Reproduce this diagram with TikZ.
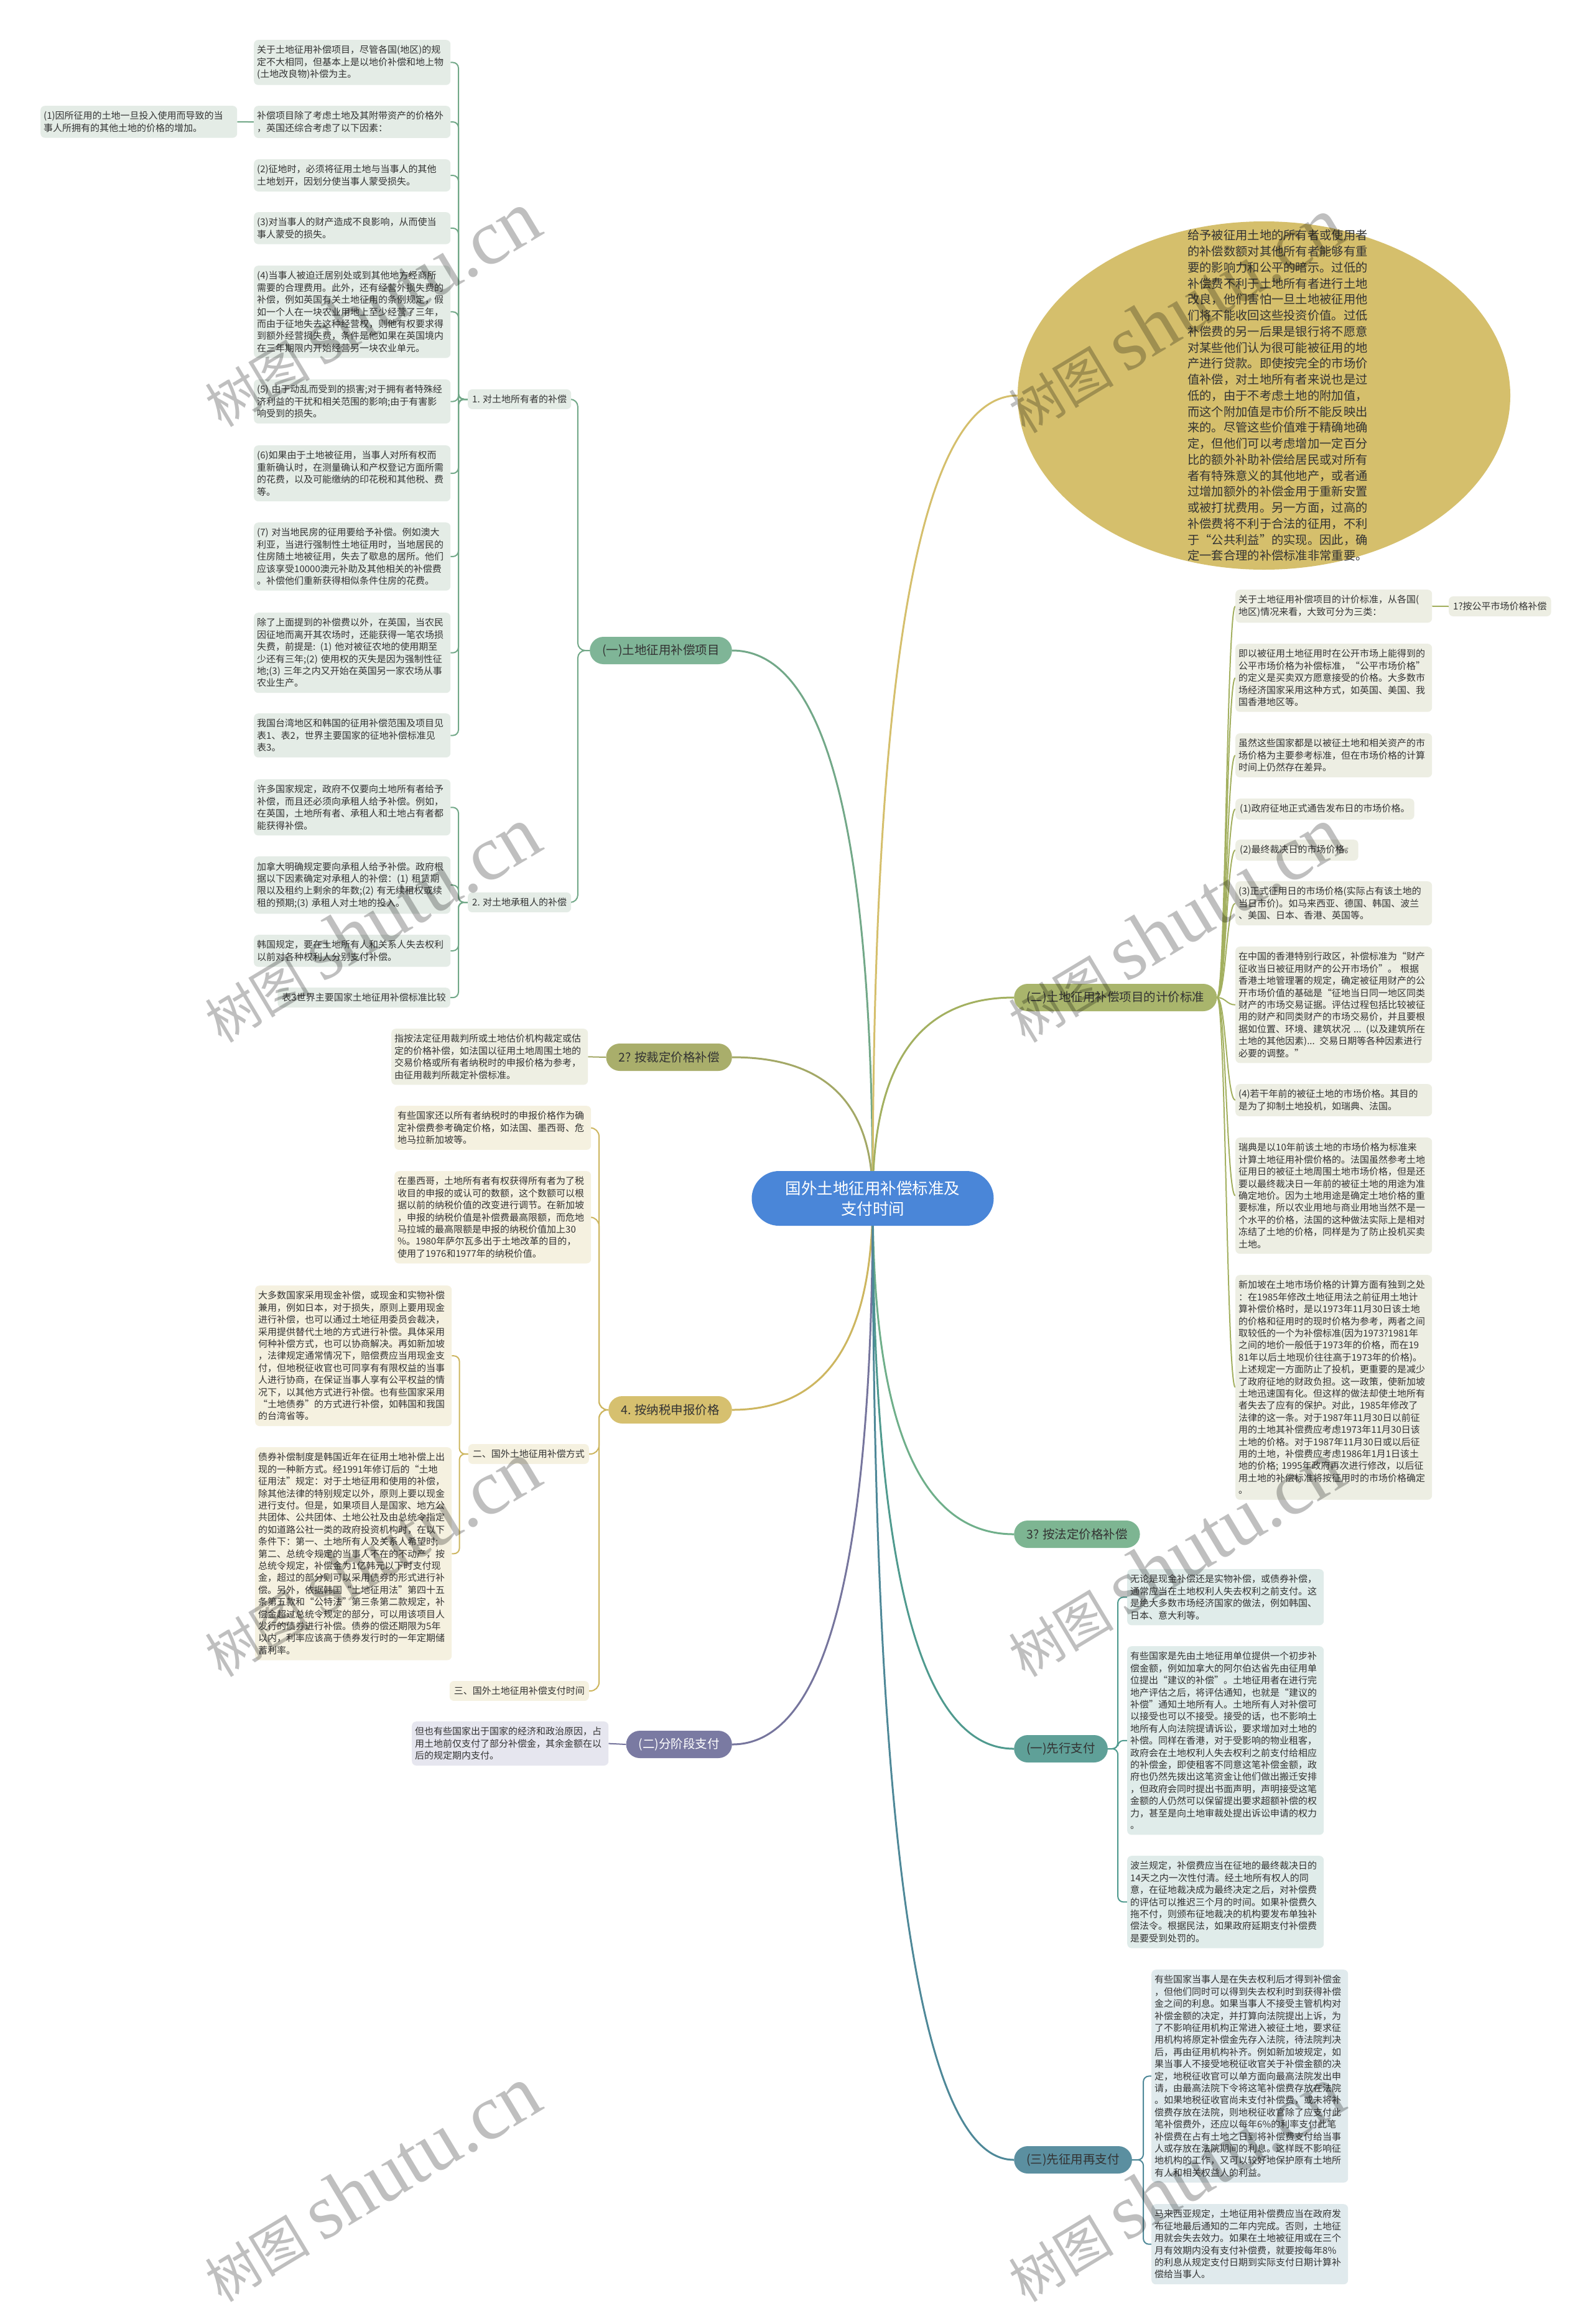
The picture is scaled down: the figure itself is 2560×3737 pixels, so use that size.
\documentclass[tikz,border=0pt]{standalone}
\usepackage{fontspec}
\setmainfont{Noto Sans CJK SC}
\newfontfamily\wmlatin{Liberation Serif}
\usetikzlibrary{calc,shapes.geometric}

\definecolor{txt}{HTML}{333333}
\definecolor{rootblue}{HTML}{4A86D8}
\definecolor{grnline}{HTML}{72A888}
\definecolor{grnnode}{HTML}{7FB597}
\definecolor{grnleaf}{HTML}{E4ECE6}
\definecolor{olvline}{HTML}{A3A866}
\definecolor{olvnode}{HTML}{A9AE6B}
\definecolor{olvleaf}{HTML}{EEEFE3}
\definecolor{gldline}{HTML}{CDB660}
\definecolor{gldnode}{HTML}{D6C06F}
\definecolor{gldleaf}{HTML}{F5F1E0}
\definecolor{prpline}{HTML}{76759D}
\definecolor{prpnode}{HTML}{7A7AA2}
\definecolor{prpleaf}{HTML}{E6E6EF}
\definecolor{ellfill}{HTML}{D5BF6C}
\definecolor{pcline}{HTML}{A3B060}
\definecolor{pcnode}{HTML}{A9B56C}
\definecolor{pcleaf}{HTML}{EDEEE3}
\definecolor{lgline}{HTML}{6FAF8A}
\definecolor{lgnode}{HTML}{7DB592}
\definecolor{advline}{HTML}{4F9A8E}
\definecolor{advnode}{HTML}{5FA098}
\definecolor{advleaf}{HTML}{E0ECEA}
\definecolor{latline}{HTML}{4E8898}
\definecolor{latnode}{HTML}{5B8FA0}
\definecolor{latleaf}{HTML}{E0EAED}

\newcommand\leaffont{\fontsize{15}{19.4}\selectfont}
\newcommand\topicfont{\fontsize{19.5}{24}\selectfont}
\newcommand\rootfont{\fontsize{25.5}{33}\selectfont}
\newcommand\ellfont{\fontsize{19.3}{25.75}\selectfont}
\newcommand\wmfont{\fontsize{85}{90}\selectfont}

\newcommand\branch[2]{\draw[link=#1] (root.center) .. controls ($(root.center)!.67!(root.center |- #2)$) and ($(#2)!.67!(root.center |- #2)$) .. (#2);}

\pgfdeclarelayer{back}
\pgfdeclarelayer{lines}
\pgfsetlayers{back,lines,main}

\begin{document}
\begin{tikzpicture}[x=1pt,y=-1pt,
    leaf/.style={fill=#1,rounded corners=7pt,inner xsep=5pt,inner ysep=9pt,text width=306pt,align=left,font=\leaffont,text=txt,anchor=north west},
    tag/.style={fill=#1,rounded corners=7pt,inner xsep=7pt,inner ysep=9pt,font=\leaffont,text=txt},
    topic/.style={fill=#1,rounded corners=22pt,minimum height=44pt,inner xsep=20pt,font=\topicfont,text=txt},
    link/.style={draw=#1,line width=3pt},
    sub/.style={draw=#1,line width=2pt,rounded corners=9pt},
    wmark/.style={rotate=31,opacity=.25,font=\wmfont,anchor=base west}]
  \useasboundingbox (0,0) rectangle (2560,3737);
  \begin{pgfonlayer}{back}
    \fill[white] (0,0) rectangle (2560,3737);
  \end{pgfonlayer}

  \node[fill=rootblue,text=white,font=\rootfont,align=center,rounded corners=44pt,minimum width=389pt,minimum height=88pt] (root) at (1403,1927) {国外土地征用补偿标准及\\支付时间};

  \node[topic=grnnode,anchor=east] (items) at (1177,1046) {(一)土地征用补偿项目};
  \node[topic=olvnode,anchor=east] (judged) at (1177,1700) {2? 按裁定价格补偿};
  \node[topic=gldnode,anchor=east] (tax) at (1177,2267) {4. 按纳税申报价格};
  \node[topic=prpnode,anchor=east,text=white] (stage) at (1177,2805) {(二)分阶段支付};
  \node[ellipse,fill=ellfill,minimum width=792pt,minimum height=560pt,inner sep=0pt] (ell) at (2032,636) {};
  \node[font=\ellfont,align=left,text=txt] (elltxt) at (2054,636) {给予被征用土地的所有者或使用者\\的补偿数额对其他所有者能够有重\\要的影响力和公平的暗示。过低的\\补偿费不利于土地所有者进行土地\\改良，他们害怕一旦土地被征用他\\们将不能收回这些投资价值。过低\\补偿费的另一后果是银行将不愿意\\对某些他们认为很可能被征用的地\\产进行贷款。即使按完全的市场价\\值补偿，对土地所有者来说也是过\\低的，由于不考虑土地的附加值，\\而这个附加值是市价所不能反映出\\来的。尽管这些价值难于精确地确\\定，但他们可以考虑增加一定百分\\比的额外补助补偿给居民或对所有\\者有特殊意义的其他地产，或者通\\过增加额外的补偿金用于重新安置\\或被打扰费用。另一方面，过高的\\补偿费将不利于合法的征用，不利\\于“公共利益”的实现。因此，确\\定一套合理的补偿标准非常重要。};
  \node[topic=pcnode,anchor=west] (price) at (1630,1604) {(二)土地征用补偿项目的计价标准};
  \node[topic=lgnode,anchor=west] (legal) at (1630,2467) {3? 按法定价格补偿};
  \node[topic=advnode,anchor=west] (adv) at (1630,2812) {(一)先行支付};
  \node[topic=latnode,anchor=west] (later) at (1630,3473) {(三)先征用再支付};

  \node[tag=grnleaf,anchor=west] (owner) at (752,642) {1. 对土地所有者的补偿};
  \node[tag=grnleaf,anchor=west] (tenant) at (752,1451) {2. 对土地承租人的补偿};
  \node[leaf=grnleaf] (a) at (408,64) {关于土地征用补偿项目，尽管各国(地区)的规\\定不大相同，但基本上是以地价补偿和地上物\\(土地改良物)补偿为主。};
  \node[leaf=grnleaf] (x1) at (65,170) {(1)因所征用的土地一旦投入使用而导致的当\\事人所拥有的其他土地的价格的增加。};
  \node[leaf=grnleaf] (b) at (408,170) {补偿项目除了考虑土地及其附带资产的价格外\\，英国还综合考虑了以下因素：};
  \node[leaf=grnleaf] (c) at (408,256) {(2)征地时，必须将征用土地与当事人的其他\\土地划开，因划分使当事人蒙受损失。};
  \node[leaf=grnleaf] (d) at (408,341) {(3)对当事人的财产造成不良影响，从而使当\\事人蒙受的损失。};
  \node[leaf=grnleaf] (e) at (408,427) {(4)当事人被迫迁居别处或到其他地方经商所\\需要的合理费用。此外，还有经营外损失费的\\补偿，例如英国有关土地征用的条例规定，假\\如一个人在一块农业用地上至少经营了三年，\\而由于征地失去这种经营权，则他有权要求得\\到额外经营损失费，条件是他如果在英国境内\\在三年期限内开始经营另一块农业单元。};
  \node[leaf=grnleaf] (f) at (408,610) {(5) 由于动乱而受到的损害;对于拥有者特殊经\\济利益的干扰和相关范围的影响;由于有害影\\响受到的损失。};
  \node[leaf=grnleaf] (g) at (408,716) {(6)如果由于土地被征用，当事人对所有权而\\重新确认时，在测量确认和产权登记方面所需\\的花费，以及可能缴纳的印花税和其他税、费\\等。};
  \node[leaf=grnleaf] (h) at (408,840) {(7) 对当地民房的征用要给予补偿。例如澳大\\利亚，当进行强制性土地征用时，当地居民的\\住房随土地被征用，失去了歇息的居所。他们\\应该享受10000澳元补助及其他相关的补偿费\\。补偿他们重新获得相似条件住房的花费。};
  \node[leaf=grnleaf] (i) at (408,985) {除了上面提到的补偿费以外，在英国，当农民\\因征地而离开其农场时，还能获得一笔农场损\\失费，前提是: (1) 他对被征农地的使用期至\\少还有三年;(2) 使用权的灭失是因为强制性征\\地;(3) 三年之内又开始在英国另一家农场从事\\农业生产。};
  \node[leaf=grnleaf] (j) at (408,1147) {我国台湾地区和韩国的征用补偿范围及项目见\\表1、表2，世界主要国家的征地补偿标准见\\表3。};
  \node[leaf=grnleaf] (k) at (408,1253) {许多国家规定，政府不仅要向土地所有者给予\\补偿，而且还必须向承租人给予补偿。例如，\\在英国，土地所有者、承租人和土地占有者都\\能获得补偿。};
  \node[leaf=grnleaf] (l) at (408,1377) {加拿大明确规定要向承租人给予补偿。政府根\\据以下因素确定对承租人的补偿：(1) 租赁期\\限以及租约上剩余的年数;(2) 有无续租权或续\\租的预期;(3) 承租人对土地的投入。};
  \node[leaf=grnleaf] (m) at (408,1503) {韩国规定，要在土地所有人和关系人失去权利\\以前对各种权利人分别支付补偿。};
  \node[tag=grnleaf,anchor=north east] (n) at (724,1588) {表3世界主要国家土地征用补偿标准比较};

  \node[leaf=olvleaf] (o1) at (629,1654) {指按法定征用裁判所或土地估价机构裁定或估\\定的价格补偿，如法国以征用土地周围土地的\\交易价格或所有者纳税时的申报价格为参考，\\由征用裁判所裁定补偿标准。};

  \node[leaf=gldleaf] (q1) at (634,1778) {有些国家还以所有者纳税时的申报价格作为确\\定补偿费参考确定价格，如法国、墨西哥、危\\地马拉新加坡等。};
  \node[leaf=gldleaf] (q2) at (634,1883) {在墨西哥，土地所有者有权获得所有者为了税\\收目的申报的或认可的数额，这个数额可以根\\据以前的纳税价值的改变进行调节。在新加坡\\，申报的纳税价值是补偿费最高限额，而危地\\马拉城的最高限额是申报的纳税价值加上30\\\%。1980年萨尔瓦多出于土地改革的目的，\\使用了1976和1977年的纳税价值。};
  \node[tag=gldleaf,anchor=east] (v1) at (947,2338) {二、国外土地征用补偿方式};
  \node[tag=gldleaf,anchor=east] (v2) at (947,2719) {三、国外土地征用补偿支付时间};
  \node[leaf=gldleaf] (u1) at (410,2067) {大多数国家采用现金补偿，或现金和实物补偿\\兼用，例如日本，对于损失，原则上要用现金\\进行补偿，也可以通过土地征用委员会裁决，\\采用提供替代土地的方式进行补偿。具体采用\\何种补偿方式，也可以协商解决。再如新加坡\\，法律规定通常情况下，赔偿费应当用现金支\\付，但地税征收官也可同享有有限权益的当事\\人进行协商，在保证当事人享有公平权益的情\\况下，以其他方式进行补偿。也有些国家采用\\“土地债券”的方式进行补偿，如韩国和我国\\的台湾省等。};
  \node[leaf=gldleaf] (u2) at (410,2327) {债券补偿制度是韩国近年在征用土地补偿上出\\现的一种新方式。经1991年修订后的“土地\\征用法”规定：对于土地征用和使用的补偿，\\除其他法律的特别规定以外，原则上要以现金\\进行支付。但是，如果项目人是国家、地方公\\共团体、公共团体、土地公社及由总统令指定\\的如道路公社一类的政府投资机构时，在以下\\条件下：第一、土地所有人及关系人希望时;\\第二、总统令规定的当事人不在的不动产，按\\总统令规定，补偿金为1亿韩元以下时支付现\\金，超过的部分则可以采用债券的形式进行补\\偿。另外，依据韩国“土地征用法”第四十五\\条第五款和“公特法”第三条第二款规定，补\\偿金超过总统令规定的部分，可以用该项目人\\发行的债券进行补偿。债券的偿还期限为5年\\以内，利率应该高于债券发行时的一年定期储\\蓄利率。};

  \node[leaf=prpleaf] (w) at (662,2768) {但也有些国家出于国家的经济和政治原因，占\\用土地前仅支付了部分补偿金，其余金额在以\\后的规定期内支付。};

  \node[leaf=pcleaf] (p1) at (1986,948) {关于土地征用补偿项目的计价标准，从各国(\\地区)情况来看，大致可分为三类：};
  \node[tag=pcleaf,anchor=west] (fair) at (2329,975) {1?按公平市场价格补偿};
  \node[leaf=pcleaf] (p2) at (1986,1035) {即以被征用土地征用时在公开市场上能得到的\\公平市场价格为补偿标准，“公平市场价格”\\的定义是买卖双方愿意接受的价格。大多数市\\场经济国家采用这种方式，如英国、美国、我\\国香港地区等。};
  \node[leaf=pcleaf] (p3) at (1986,1179) {虽然这些国家都是以被征土地和相关资产的市\\场价格为主要参考标准，但在市场价格的计算\\时间上仍然存在差异。};
  \node[tag=pcleaf,anchor=north west] (p4) at (1986,1284) {(1)政府征地正式通告发布日的市场价格。};
  \node[tag=pcleaf,anchor=north west] (p5) at (1986,1350) {(2)最终裁决日的市场价格。};
  \node[leaf=pcleaf] (p6) at (1986,1417) {(3)正式征用日的市场价格(实际占有该土地的\\当日市价)。如马来西亚、德国、韩国、波兰\\、美国、日本、香港、英国等。};
  \node[leaf=pcleaf] (p7) at (1986,1522) {在中国的香港特别行政区，补偿标准为“财产\\征收当日被征用财产的公开市场价”。 根据\\香港土地管理署的规定，确定被征用财产的公\\开市场价值的基础是“征地当日同一地区同类\\财产的市场交易证据。评估过程包括比较被征\\用的财产和同类财产的市场交易价，并且要根\\据如位置、环境、建筑状况 ... (以及建筑所在\\土地的其他因素)... 交易日期等各种因素进行\\必要的调整。”};
  \node[leaf=pcleaf] (p8) at (1986,1743) {(4)若干年前的被征土地的市场价格。其目的\\是为了抑制土地投机，如瑞典、法国。};
  \node[leaf=pcleaf] (p9) at (1986,1829) {瑞典是以10年前该土地的市场价格为标准来\\计算土地征用补偿价格的。法国虽然参考土地\\征用日的被征土地周围土地市场价格，但是还\\要以最终裁决日一年前的被征土地的用途为准\\确定地价。因为土地用途是确定土地价格的重\\要标准，所以农业用地与商业用地当然不是一\\个水平的价格，法国的这种做法实际上是相对\\冻结了土地的价格，同样是为了防止投机买卖\\土地。};
  \node[leaf=pcleaf] (r) at (1986,2050) {新加坡在土地市场价格的计算方面有独到之处\\：在1985年修改土地征用法之前征用土地计\\算补偿价格时，是以1973年11月30日该土地\\的价格和征用时的现时价格为参考，两者之间\\取较低的一个为补偿标准(因为1973?1981年\\之间的地价一般低于1973年的价格，而在19\\81年以后土地现价往往高于1973年的价格)。\\上述规定一方面防止了投机，更重要的是减少\\了政府征地的财政负担。这一政策，使新加坡\\土地迅速国有化。但这样的做法却使土地所有\\者失去了应有的保护。对此，1985年修改了\\法律的这一条。对于1987年11月30日以前征\\用的土地其补偿费应考虑1973年11月30日该\\土地的价格。对于1987年11月30日或以后征\\用的土地，补偿费应考虑1986年1月1日该土\\地的价格; 1995年政府再次进行修改，以后征\\用土地的补偿标准将按征用时的市场价格确定\\。};

  \node[leaf=advleaf] (s1) at (1812,2523) {无论是现金补偿还是实物补偿，或债券补偿，\\通常应当在土地权利人失去权利之前支付。这\\是绝大多数市场经济国家的做法，例如韩国、\\日本、意大利等。};
  \node[leaf=advleaf] (s2) at (1812,2647) {有些国家是先由土地征用单位提供一个初步补\\偿金额，例如加拿大的阿尔伯达省先由征用单\\位提出“建议的补偿”。土地征用者在进行完\\地产评估之后，将评估通知，也就是“建议的\\补偿”通知土地所有人。土地所有人对补偿可\\以接受也可以不接受。接受的话，也不影响土\\地所有人向法院提请诉讼，要求增加对土地的\\补偿。同样在香港，对于受影响的物业租客，\\政府会在土地权利人失去权利之前支付给相应\\的补偿金，即使租客不同意这笔补偿金额，政\\府也仍然先拨出这笔资金让他们做出搬迁安排\\，但政府会同时提出书面声明，声明接受这笔\\金额的人仍然可以保留提出要求超额补偿的权\\力，甚至是向土地审裁处提出诉讼申请的权力\\。};
  \node[leaf=advleaf] (s3) at (1812,2984) {波兰规定，补偿费应当在征地的最终裁决日的\\14天之内一次性付清。经土地所有权人的同\\意，在征地裁决成为最终决定之后，对补偿费\\的评估可以推迟三个月的时间。如果补偿费久\\拖不付，则颁布征地裁决的机构要发布单独补\\偿法令。根据民法，如果政府延期支付补偿费\\是要受到处罚的。};

  \node[leaf=latleaf] (t1) at (1851,3167) {有些国家当事人是在失去权利后才得到补偿金\\，但他们同时可以得到失去权利时到获得补偿\\金之间的利息。如果当事人不接受主管机构对\\补偿金额的决定，并打算向法院提出上诉，为\\了不影响征用机构正常进入被征土地，要求征\\用机构将原定补偿金先存入法院，待法院判决\\后，再由征用机构补齐。例如新加坡规定，如\\果当事人不接受地税征收官关于补偿金额的决\\定，地税征收官可以单方面向最高法院发出申\\请，由最高法院下令将这笔补偿费存放在法院\\。如果地税征收官尚未支付补偿费，或未将补\\偿费存放在法院，则地税征收官除了应支付此\\笔补偿费外，还应以每年6\%的利率支付此笔\\补偿费在占有土地之日到将补偿费支付给当事\\人或存放在法院期间的利息。这样既不影响征\\地机构的工作，又可以较好地保护原有土地所\\有人和相关权益人的利益。};
  \node[leaf=latleaf] (t2) at (1851,3544) {马来西亚规定，土地征用补偿费应当在政府发\\布征地最后通知的二年内完成。否则，土地征\\用就会失去效力。如果在土地被征用或在三个\\月有效期内没有支付补偿费，就要按每年8\%\\的利息从规定支付日期到实际支付日期计算补\\偿给当事人。};

  \begin{pgfonlayer}{lines}
    \branch{grnline}{items.east}
    \branch{olvline}{judged.east}
    \branch{gldline}{tax.east}
    \branch{prpline}{stage.east}
    \branch{ellfill}{ell.west}
    \branch{pcline}{price.west}
    \branch{lgline}{legal.west}
    \branch{advline}{adv.west}
    \branch{latline}{later.west}
    \foreach \nd in {owner,tenant}
      \draw[sub=grnline,rounded corners=12pt] (items.west) -- ++(-19,0) |- (\nd.east);
    \foreach \nd in {a,b,c,d,e,f,g,h,i,j}
      \draw[sub=grnline] (owner.west) -- ++(-15,0) |- (\nd.east);
    \foreach \nd in {k,l,m,n}
      \draw[sub=grnline] (tenant.west) -- ++(-15,0) |- (\nd.east);
    \draw[sub=grnline] (b.west) -- (x1.east);
    \draw[sub=olvline] (judged.west) -- (o1.east);
    \foreach \nd in {q1,q2,v1,v2}
      \draw[sub=gldline,rounded corners=14pt] (tax.west) -- ++(-15,0) |- (\nd.east);
    \foreach \nd in {u1,u2}
      \draw[sub=gldline] (v1.west) -- ++(-14,0) |- (\nd.east);
    \draw[sub=prpline] (stage.west) -- (w.east);
    \foreach \nd in {p1,p2,p3,p4,p5,p6,p7,p8,p9,r}
      \draw[draw=pcline,line width=2pt] (price.east) .. controls +(14,0) and +(-14,0) .. (\nd.west);
    \draw[sub=pcline] (p1.east) -- (fair.west);
    \foreach \nd in {s1,s2,s3}
      \draw[sub=advline] (adv.east) -- ++(16,0) |- (\nd.west);
    \foreach \nd in {t1,t2}
      \draw[sub=latline] (later.east) -- ++(18,0) |- (\nd.west);
  \end{pgfonlayer}

  \foreach \px/\py in {353/690,353/1680,353/2700,353/3705,1645/700,1645/1680,1645/2700,1645/3705}
    \node[wmark] at (\px,\py) {树图 {\wmlatin\fontsize{125}{130}\selectfont shutu.cn}};
\end{tikzpicture}
\end{document}
